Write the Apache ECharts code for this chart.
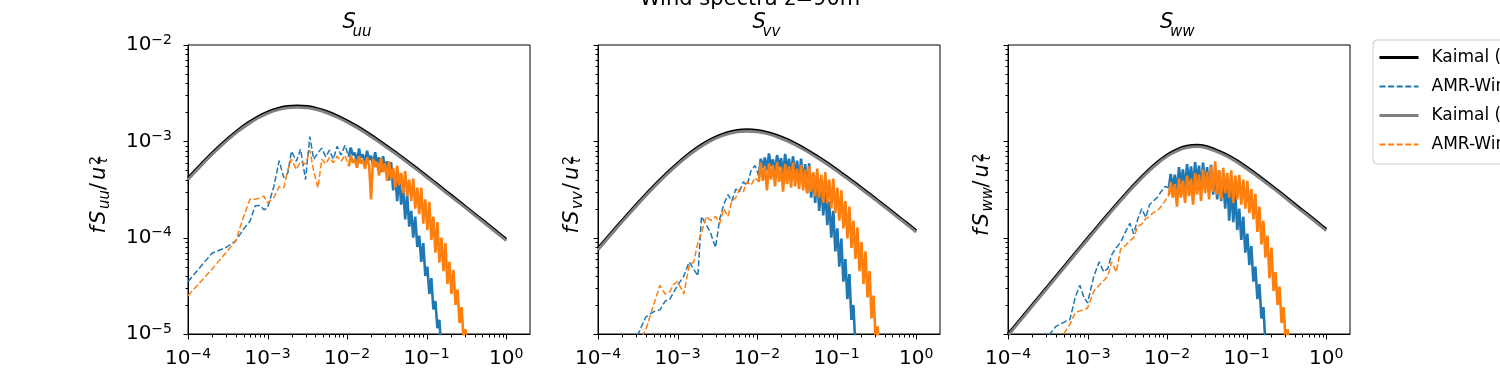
<!DOCTYPE html>
<html>
<head>
<meta charset="utf-8">
<script src="https://cdn.jsdelivr.net/npm/echarts/dist/echarts.min.js"></script>
<style>
  html, body { margin: 0; padding: 0; background: #fff; }
  #chart { width: 1500px; height: 375px; }
</style>
</head>
<body>
<div id="chart"></div>
<script>
// Wind spectra z=90m : Kaimal vs AMR-Wind, three components

var xMin = 1e-4, xMax = 1.99, yMin = 1e-5, yMax = 1e-2;
var xMajorTicks = [1e-4, 1e-3, 1e-2, 1e-1, 1];
var yMajorTicks = [1e-5, 1e-4, 1e-3, 1e-2];
var panelSubs = ['uu', 'vv', 'ww'];
var seriesNames = ['Kaimal (1)', 'AMR-Wind (1)', 'Kaimal (2)', 'AMR-Wind (2)'];

// Kaimal model curves
var kaimalFreq = [1e-4, 1.334e-4, 1.778e-4, 2.371e-4, 3.162e-4, 4.217e-4, 5.623e-4, 7.499e-4,
    1e-3, 1.334e-3, 1.778e-3, 2.371e-3, 3.162e-3, 4.217e-3, 5.623e-3, 7.499e-3,
    1e-2, 1.334e-2, 1.778e-2, 2.371e-2, 3.162e-2, 4.217e-2, 5.623e-2, 7.499e-2,
    0.1, 0.1334, 0.1778, 0.2371, 0.3162, 0.4217, 0.5623, 0.7499, 1];
var kaimalBlackU = [4.15e-4, 5.35e-4, 6.84e-4, 8.61e-4, 1.069e-3, 1.303e-3, 1.549e-3, 1.795e-3,
    2.018e-3, 2.193e-3, 2.307e-3, 2.339e-3, 2.301e-3, 2.193e-3, 2.032e-3, 1.845e-3,
    1.637e-3, 1.432e-3, 1.236e-3, 1.054e-3, 8.93e-4, 7.52e-4, 6.30e-4, 5.26e-4,
    4.38e-4, 3.64e-4, 3.01e-4, 2.50e-4, 2.07e-4, 1.710e-4, 1.413e-4, 1.169e-4, 9.64e-5];
var kaimalGrayU = [4.00e-4, 5.16e-4, 6.60e-4, 8.31e-4, 1.032e-3, 1.257e-3, 1.495e-3, 1.732e-3,
    1.947e-3, 2.116e-3, 2.226e-3, 2.257e-3, 2.220e-3, 2.116e-3, 1.961e-3, 1.780e-3,
    1.580e-3, 1.382e-3, 1.193e-3, 1.017e-3, 8.62e-4, 7.26e-4, 6.08e-4, 5.08e-4,
    4.23e-4, 3.51e-4, 2.90e-4, 2.41e-4, 2.00e-4, 1.650e-4, 1.364e-4, 1.128e-4, 9.30e-5];
var kaimalBlackV = [7.76e-5, 1.023e-4, 1.346e-4, 1.762e-4, 2.291e-4, 2.958e-4, 3.776e-4, 4.77e-4,
    5.93e-4, 7.23e-4, 8.63e-4, 1.001e-3, 1.127e-3, 1.230e-3, 1.297e-3, 1.319e-3,
    1.300e-3, 1.242e-3, 1.153e-3, 1.048e-3, 9.31e-4, 8.15e-4, 7.05e-4, 6.03e-4,
    5.11e-4, 4.30e-4, 3.61e-4, 3.01e-4, 2.506e-4, 2.08e-4, 1.726e-4, 1.432e-4, 1.183e-4];
var kaimalGrayV = [7.49e-5, 9.87e-5, 1.299e-4, 1.700e-4, 2.211e-4, 2.854e-4, 3.644e-4, 4.60e-4,
    5.72e-4, 6.98e-4, 8.33e-4, 9.66e-4, 1.088e-3, 1.187e-3, 1.252e-3, 1.273e-3,
    1.255e-3, 1.199e-3, 1.113e-3, 1.011e-3, 8.98e-4, 7.86e-4, 6.80e-4, 5.82e-4,
    4.93e-4, 4.15e-4, 3.48e-4, 2.90e-4, 2.418e-4, 2.01e-4, 1.666e-4, 1.382e-4, 1.142e-4];
var kaimalBlackW = [1.0e-5, 1.327e-5, 1.770e-5, 2.36e-5, 3.14e-5, 4.19e-5, 5.58e-5, 7.43e-5,
    9.86e-5, 1.309e-4, 1.734e-4, 2.28e-4, 2.985e-4, 3.85e-4, 4.89e-4, 6.05e-4,
    7.23e-4, 8.24e-4, 8.91e-4, 9.12e-4, 8.83e-4, 8.09e-4, 7.26e-4, 6.32e-4,
    5.38e-4, 4.54e-4, 3.79e-4, 3.16e-4, 2.618e-4, 2.16e-4, 1.795e-4, 1.483e-4, 1.225e-4];
var kaimalGrayW = [9.6e-6, 1.281e-5, 1.708e-5, 2.28e-5, 3.03e-5, 4.04e-5, 5.38e-5, 7.17e-5,
    9.51e-5, 1.263e-4, 1.673e-4, 2.20e-4, 2.881e-4, 3.72e-4, 4.72e-4, 5.84e-4,
    6.98e-4, 7.95e-4, 8.60e-4, 8.80e-4, 8.52e-4, 7.81e-4, 7.01e-4, 6.10e-4,
    5.19e-4, 4.38e-4, 3.66e-4, 3.05e-4, 2.526e-4, 2.08e-4, 1.732e-4, 1.431e-4, 1.182e-4];

// AMR-Wind spectra frequencies (shared by both runs)
var specFreq = [1e-4, 2e-4, 3e-4, 4e-4, 5e-4, 6e-4, 7e-4, 8e-4, 9e-4, 1e-3,
    1.2e-3, 1.4e-3, 1.6e-3, 1.8e-3, 2.0e-3, 2.3e-3, 2.6e-3, 3.0e-3, 3.4e-3, 3.8e-3,
    4.3e-3, 4.8e-3, 5.4e-3, 6.0e-3, 6.7e-3, 7.5e-3, 8.4e-3, 9.4e-3,
    1.05e-2, 1.11e-2, 1.18e-2, 1.25e-2, 1.33e-2, 1.41e-2, 1.49e-2, 1.58e-2, 1.68e-2, 1.78e-2,
    1.89e-2, 2.0e-2, 2.12e-2, 2.25e-2, 2.38e-2, 2.52e-2, 2.67e-2, 2.83e-2, 3.0e-2, 3.18e-2,
    3.37e-2, 3.57e-2, 3.79e-2, 4.02e-2, 4.26e-2, 4.51e-2, 4.78e-2, 5.07e-2, 5.37e-2, 5.69e-2,
    6.03e-2, 6.4e-2, 6.78e-2, 7.19e-2, 7.62e-2, 8.07e-2, 8.56e-2, 9.07e-2, 9.62e-2, 0.102,
    0.108, 0.1145, 0.1214, 0.1287, 0.1364, 0.1446, 0.1533, 0.1625, 0.1722, 0.1825,
    0.1935, 0.2051, 0.2174, 0.2304, 0.2443, 0.2589, 0.2745, 0.2909, 0.3084, 0.327,
    0.347];
// index where the spectra become dense (drawn as a solid band from here on)
var denseFrom = 28;

var blueU = [3.5e-5, 6.9e-5, 7.9e-5, 9.3e-5, 1.23e-4, 1.48e-4, 2.14e-4, 2.16e-4, 1.95e-4, 2.04e-4,
    3.4e-4, 6.3e-4, 4.2e-4, 4.7e-4, 7.9e-4, 6.2e-4, 8.3e-4, 4.0e-4, 1.12e-3, 6.5e-4,
    7.6e-4, 8.5e-4, 6.9e-4, 8.1e-4, 6.5e-4, 8.9e-4, 7.2e-4, 9.1e-4,
    6.9e-4, 8.6e-4, 7.2e-4, 7.6e-4, 6.0e-4, 8.4e-4, 6.8e-4, 7.3e-4, 5.9e-4, 8.0e-4,
    6.4e-4, 7.1e-4, 5.6e-4, 7.7e-4, 5.9e-4, 6.8e-4, 4.8e-4, 7.0e-4, 5.2e-4, 6.2e-4,
    3.9e-4, 6.1e-4, 3.1e-4, 4.6e-4, 2.4e-4, 4.5e-4, 2.2e-4, 3.2e-4, 1.55e-4, 2.8e-4,
    1.3e-4, 1.9e-4, 1.0e-4, 1.65e-4, 8.0e-5, 1.05e-4, 5.6e-5, 8.8e-5, 4.0e-5, 5.0e-5,
    2.6e-5, 3.8e-5, 1.8e-5, 2.2e-5, 1.15e-5, 1.4e-5, 6.3e-6, 7.9e-6, 4.0e-6];
var orangeU = [2.5e-5, 4.7e-5, 7.0e-5, 9.3e-5, 1.66e-4, 2.5e-4, 2.5e-4, 2.6e-4, 2.7e-4, 2.3e-4,
    2.6e-4, 3.4e-4, 3.3e-4, 5.1e-4, 6.5e-4, 5.1e-4, 6.2e-4, 5.8e-4, 8.1e-4, 4.9e-4,
    3.3e-4, 6.5e-4, 5.8e-4, 6.8e-4, 6.0e-4, 7.0e-4, 6.2e-4, 7.2e-4,
    5.5e-4, 7.1e-4, 6.0e-4, 6.5e-4, 5.3e-4, 7.0e-4, 5.9e-4, 6.4e-4, 5.2e-4, 6.8e-4,
    5.7e-4, 2.5e-4, 6.6e-4, 5.4e-4, 6.1e-4, 4.4e-4, 6.7e-4, 4.8e-4, 5.9e-4, 3.9e-4,
    6.2e-4, 4.1e-4, 5.3e-4, 3.3e-4, 5.6e-4, 3.5e-4, 4.7e-4, 2.9e-4, 4.9e-4, 2.7e-4,
    4.0e-4, 2.4e-4, 4.1e-4, 2.0e-4, 3.3e-4, 1.75e-4, 3.3e-4, 1.4e-4, 2.5e-4, 1.2e-4,
    2.35e-4, 9.5e-5, 1.65e-4, 7.0e-5, 1.45e-4, 5.5e-5, 1.0e-4, 4.5e-5, 8.8e-5, 3.3e-5,
    5.6e-5, 2.6e-5, 4.6e-5, 2.0e-5, 2.9e-5, 1.3e-5, 1.9e-5, 8.9e-6, 1.12e-5, 6.3e-6,
    5.0e-6];

var blueV = [2.5e-6, 5.0e-6, 8.9e-6, 1.51e-5, 1.7e-5, 1.78e-5, 2.2e-5, 2.3e-5, 2.75e-5, 3.2e-5,
    4.0e-5, 5.6e-5, 4.7e-5, 4.0e-5, 1.66e-4, 1.35e-4, 1.12e-4, 7.9e-5, 1.58e-4, 2.2e-4,
    2.8e-4, 2.4e-4, 3.2e-4, 3.0e-4, 3.8e-4, 3.5e-4, 5.0e-4, 5.6e-4,
    4.4e-4, 6.6e-4, 5.3e-4, 6.8e-4, 5.0e-4, 7.5e-4, 5.5e-4, 6.5e-4, 4.9e-4, 7.2e-4,
    5.4e-4, 6.7e-4, 4.5e-4, 7.4e-4, 5.0e-4, 6.6e-4, 4.4e-4, 7.0e-4, 4.3e-4, 6.3e-4,
    3.8e-4, 6.6e-4, 3.5e-4, 5.8e-4, 2.9e-4, 5.9e-4, 2.6e-4, 4.7e-4, 2.3e-4, 4.6e-4,
    1.9e-4, 3.6e-4, 1.7e-4, 3.3e-4, 1.35e-4, 2.4e-4, 1.0e-4, 1.9e-4, 7.2e-5, 1.25e-4,
    5.0e-5, 9.8e-5, 3.5e-5, 6.0e-5, 2.3e-5, 4.2e-5, 1.4e-5, 2.0e-5, 7.1e-6];
var orangeV = [1.6e-6, 4.0e-6, 7.1e-6, 1.12e-5, 2.0e-5, 3.2e-5, 2.6e-5, 2.75e-5, 3.3e-5, 3.5e-5,
    2.6e-5, 5.2e-5, 5.6e-5, 8.9e-5, 1.12e-4, 1.66e-4, 1.51e-4, 1.66e-4, 1.41e-4, 2.0e-4,
    1.66e-4, 2.4e-4, 2.6e-4, 3.2e-4, 3.0e-4, 3.8e-4, 3.5e-4, 4.2e-4,
    3.8e-4, 6.0e-4, 3.9e-4, 5.5e-4, 3.1e-4, 5.9e-4, 4.0e-4, 5.7e-4, 3.4e-4, 6.1e-4,
    3.8e-4, 5.4e-4, 3.0e-4, 5.8e-4, 3.6e-4, 5.5e-4, 3.3e-4, 6.0e-4, 3.4e-4, 5.2e-4,
    3.2e-4, 5.7e-4, 3.1e-4, 5.1e-4, 2.9e-4, 5.5e-4, 3.0e-4, 4.8e-4, 2.7e-4, 5.2e-4,
    2.6e-4, 4.5e-4, 2.3e-4, 4.8e-4, 2.3e-4, 4.0e-4, 2.0e-4, 4.1e-4, 1.8e-4, 3.3e-4,
    1.5e-4, 3.1e-4, 1.25e-4, 2.4e-4, 9.8e-5, 2.1e-4, 7.8e-5, 1.5e-4, 6.0e-5, 1.28e-4,
    4.5e-5, 9.0e-5, 3.3e-5, 7.2e-5, 2.4e-5, 4.5e-5, 1.45e-5, 2.5e-5, 8.9e-6, 1.2e-5,
    6.3e-6];

var blueW = [1.6e-6, 5.0e-6, 8.9e-6, 1.2e-5, 1.32e-5, 1.41e-5, 2.4e-5, 3.2e-5, 2.4e-5, 2.1e-5,
    4.0e-5, 5.6e-5, 4.4e-5, 4.8e-5, 6.6e-5, 7.9e-5, 8.9e-5, 1.15e-4, 1.41e-4, 1.10e-4,
    1.58e-4, 2.0e-4, 1.62e-4, 2.2e-4, 2.4e-4, 2.6e-4, 3.0e-4, 3.4e-4,
    3.3e-4, 4.6e-4, 3.3e-4, 4.5e-4, 3.0e-4, 5.4e-4, 3.6e-4, 5.1e-4, 3.2e-4, 5.8e-4,
    3.8e-4, 5.5e-4, 3.3e-4, 6.1e-4, 3.7e-4, 5.6e-4, 3.1e-4, 6.0e-4, 3.3e-4, 5.4e-4,
    2.9e-4, 5.7e-4, 2.8e-4, 4.9e-4, 2.5e-4, 5.0e-4, 2.4e-4, 4.2e-4, 2.0e-4, 4.1e-4,
    1.5e-4, 3.4e-4, 1.45e-4, 2.9e-4, 1.2e-4, 2.0e-4, 9.5e-5, 1.65e-4, 7.0e-5, 1.1e-4,
    5.2e-5, 8.2e-5, 3.5e-5, 5.0e-5, 2.3e-5, 3.3e-5, 1.45e-5, 1.9e-5, 7.9e-6];
var orangeW = [1.0e-6, 2.5e-6, 5.0e-6, 7.6e-6, 1.0e-5, 1.26e-5, 1.66e-5, 1.74e-5, 1.78e-5, 1.86e-5,
    2.8e-5, 3.2e-5, 3.6e-5, 4.0e-5, 5.6e-5, 4.4e-5, 7.6e-5, 8.3e-5, 9.3e-5, 1.0e-4,
    1.32e-4, 1.38e-4, 1.58e-4, 1.66e-4, 1.82e-4, 1.9e-4, 2.1e-4, 2.4e-4,
    2.75e-4, 3.8e-4, 2.6e-4, 3.6e-4, 2.1e-4, 4.1e-4, 2.6e-4, 3.9e-4, 2.3e-4, 4.4e-4,
    2.7e-4, 4.1e-4, 2.2e-4, 4.7e-4, 2.8e-4, 4.5e-4, 2.4e-4, 5.1e-4, 2.9e-4, 4.8e-4,
    2.5e-4, 5.5e-4, 3.0e-4, 6.2e-4, 2.8e-4, 5.0e-4, 2.5e-4, 5.3e-4, 2.9e-4, 4.7e-4,
    2.6e-4, 5.0e-4, 2.3e-4, 4.4e-4, 2.5e-4, 4.5e-4, 2.2e-4, 4.0e-4, 2.0e-4, 3.9e-4,
    1.8e-4, 3.2e-4, 1.55e-4, 2.85e-4, 1.15e-4, 2.1e-4, 8.5e-5, 1.5e-4, 6.2e-5, 1.05e-4,
    3.8e-5, 7.9e-5, 2.8e-5, 4.4e-5, 2.0e-5, 3.1e-5, 1.3e-5, 1.9e-5, 8.9e-6, 1.12e-5,
    6.3e-6];

var kaimalBlack = [kaimalBlackU, kaimalBlackV, kaimalBlackW];
var kaimalGray = [kaimalGrayU, kaimalGrayV, kaimalGrayW];
var blueSpec = [blueU, blueV, blueW];
var orangeSpec = [orangeU, orangeV, orangeW];

var FONT = 'DejaVu Sans';
var gridLefts = [188, 598, 1008];
var labelX = [95, 568, 978];

function zip(xs, ys, from, to) {
    var out = [];
    from = from || 0;
    to = Math.min(to === undefined ? ys.length : to, ys.length);
    for (var i = from; i < to; i++) out.push([xs[i], ys[i]]);
    return out;
}

function powLabel(v) {
    var e = Math.log10(v);
    var r = Math.round(e);
    if (Math.abs(e - r) > 1e-6) return '';
    return '{b|10}{s|' + (r < 0 ? '\u2212' + (-r) : String(r)) + '}';
}

var labelRich = {
    b: { fontSize: 20, lineHeight: 24, fontFamily: FONT, color: '#000' },
    s: { fontSize: 14, lineHeight: 10, verticalAlign: 'top', fontFamily: FONT, color: '#000' }
};

function minorOf(majors) {
    var out = [];
    for (var i = 0; i < majors.length - 1; i++) {
        for (var m = 2; m <= 9; m++) out.push(majors[i] * m);
    }
    return out;
}

function tickSeries(gi) {
    var data = [];
    xMajorTicks.forEach(function (v) { data.push([v, yMin, 5, 0]); });
    minorOf(xMajorTicks).forEach(function (v) { data.push([v, yMin, 3, 0]); });
    yMajorTicks.forEach(function (v) { data.push([xMin, v, 5, 1]); });
    minorOf(yMajorTicks).forEach(function (v) { data.push([xMin, v, 3, 1]); });
    return {
        type: 'custom', xAxisIndex: gi, yAxisIndex: gi, silent: true, clip: false, z: 5,
        data: data,
        renderItem: function (params, api) {
            var p = api.coord([api.value(0), api.value(1)]);
            var len = api.value(2);
            var x = Math.round(p[0]) + 0.5, y = Math.round(p[1]) + 0.5;
            var shape = api.value(3) === 0
                ? { x1: x, y1: y, x2: x, y2: y + len }
                : { x1: x - len, y1: y, x2: x, y2: y };
            return { type: 'line', shape: shape, style: { stroke: '#000', lineWidth: 1 } };
        }
    };
}

function kaimalSeries(name, color, values, gi) {
    return {
        name: name, type: 'line', xAxisIndex: gi, yAxisIndex: gi,
        data: zip(kaimalFreq, values), smooth: 0.2, symbol: 'none',
        color: color, itemStyle: { color: color },
        lineStyle: { color: color, width: 2.8 }, z: 2
    };
}

// sparse low-frequency part dashed, dense high-frequency part drawn as a solid band
function spectrumSeries(name, color, values, gi) {
    return [{
        name: name, type: 'line', xAxisIndex: gi, yAxisIndex: gi,
        data: zip(specFreq, values, 0, denseFrom + 1), symbol: 'none',
        color: color, itemStyle: { color: color },
        lineStyle: { color: color, width: 1.5, type: [6, 2.6] }, z: 2
    }, {
        name: name, type: 'line', xAxisIndex: gi, yAxisIndex: gi,
        data: zip(specFreq, values, denseFrom), symbol: 'none',
        color: color, itemStyle: { color: color },
        lineStyle: { color: color, width: 2.6, join: 'bevel' }, z: 2
    }];
}

var grids = [], xAxes = [], yAxes = [], series = [], graphics = [];

function piece(t, x, y, size, italic) {
    return { type: 'text', x: x, y: y,
        style: { text: t, fontSize: size, fontFamily: FONT, fontStyle: italic ? 'italic' : 'normal',
            fill: '#000', align: 'left', verticalAlign: 'middle' } };
}

for (var p = 0; p < 3; p++) {
    grids.push({ left: gridLefts[p], top: 45, width: 342, height: 289,
        show: true, borderColor: '#000', borderWidth: 1, backgroundColor: 'transparent' });
    xAxes.push({
        type: 'log', logBase: 10, gridIndex: p, min: xMin, max: xMax,
        axisLine: { show: true, lineStyle: { color: '#000', width: 1 } },
        axisTick: { show: false }, splitLine: { show: false },
        axisLabel: { formatter: powLabel, margin: 13, rich: labelRich, color: '#000' }
    });
    yAxes.push({
        type: 'log', logBase: 10, gridIndex: p, min: yMin, max: yMax,
        axisLine: { show: true, lineStyle: { color: '#000', width: 1 } },
        axisTick: { show: false }, splitLine: { show: false },
        axisLabel: { show: p === 0, formatter: powLabel, margin: 16, rich: labelRich, color: '#000' }
    });

    series.push(kaimalSeries(seriesNames[0], '#000000', kaimalBlack[p], p));
    series = series.concat(spectrumSeries(seriesNames[1], '#1f77b4', blueSpec[p], p));
    series.push(kaimalSeries(seriesNames[2], '#808080', kaimalGray[p], p));
    series = series.concat(spectrumSeries(seriesNames[3], '#ff7f0e', orangeSpec[p], p));
    series.push(tickSeries(p));

    // subplot title S_xx
    var cx = gridLefts[p] + 171;
    var wide = panelSubs[p] === 'ww' ? 5 : 0;
    graphics.push(piece('S', cx - 16.5 - wide / 2, 22.7, 21, true));
    graphics.push(piece(panelSubs[p], cx - 6.5 - wide / 2, 31.8, 15, true));

    // y axis name fS_xx/u_tau^2, rotated
    var h = wide / 2;
    graphics.push({
        type: 'group', x: labelX[p], y: 191, rotation: Math.PI / 2,
        children: [
            piece('f', -42.5 - h, 4.4, 21, true),
            piece('S', -33 - h, 4.4, 21, true),
            piece(panelSubs[p], -18 - h, 9.8, 15, true),
            piece('/', 1 + h, 4.4, 21, false),
            piece('u', 11 + h, 4.4, 21, true),
            piece('2', 26 + h, 0.2, 14, false),
            piece('\u03c4', 26 + h, 8.5, 14, true)
        ]
    });
}

graphics.push({ type: 'text', x: 750, y: -0.6,
    style: { text: 'Wind spectra z=90m', fontSize: 21, fontFamily: FONT, fill: '#000', align: 'center', verticalAlign: 'middle' } });

var chart = echarts.init(document.getElementById('chart'), null, { renderer: 'canvas' });
chart.setOption({
    animation: false,
    backgroundColor: '#ffffff',
    textStyle: { fontFamily: FONT },
    grid: grids,
    xAxis: xAxes,
    yAxis: yAxes,
    legend: {
        data: [
            { name: seriesNames[0], lineStyle: { width: 3 } },
            { name: seriesNames[1] },
            { name: seriesNames[2], lineStyle: { width: 3 } },
            { name: seriesNames[3] }
        ],
        orient: 'vertical', left: 1373, top: 40,
        padding: [9, 10, 11, 5], itemWidth: 39, itemHeight: 14, itemGap: 12,
        selectedMode: false,
        itemStyle: { opacity: 0 },
        textStyle: { fontSize: 17, fontFamily: FONT, color: '#000', lineHeight: 14, padding: [0, 0, 0, 8] },
        backgroundColor: 'rgba(255,255,255,0.8)', borderColor: '#cccccc', borderWidth: 1, borderRadius: 4
    },
    graphic: graphics,
    series: series
});
</script>
</body>
</html>
